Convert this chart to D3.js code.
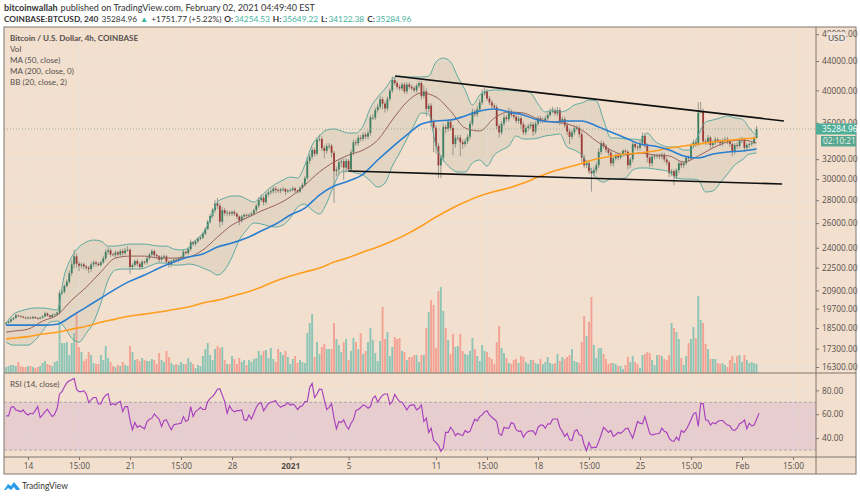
<!DOCTYPE html>
<html>
<head>
<meta charset="utf-8">
<script src="https://cdnjs.cloudflare.com/ajax/libs/d3/7.8.5/d3.min.js"></script>
<style>
html, body { margin: 0; padding: 0; background: #fff; }
text { font-family: Lato, sans-serif; }
</style>
</head>
<body>
<svg id="chart" width="860" height="498"></svg>
<script>

// one row per day, first row starts Dec 12 12:00, bars every 4h
const closes = [
18810,18890,19030,
19110,19270,19230,19190,19140,19090,
19140,19090,19170,19110,19070,19130,
19210,19390,19270,19180,19300,19340,
19440,20710,20810,21200,21500,22100,
22740,23340,22790,22640,22740,22590,
22500,22400,22740,22890,22790,22690,
22890,23190,23690,23800,23490,23440,
23640,23490,23740,23590,23800,23850,
22550,22700,22990,22790,22550,22940,
22890,23190,23490,23740,23440,23340,
23090,23290,23340,22940,22700,22990,
23090,23040,23190,23290,23690,23590,
23900,24450,24300,24500,24700,24800,
25120,25520,26120,26610,27110,27700,
27510,26120,27110,26860,26910,26810,
26960,26810,26560,26220,26560,26710,
26660,26710,26810,27110,27510,28030,
28230,27830,28530,28730,28830,29080,
28950,28860,29000,29050,28800,28900,
28950,29100,28900,28800,29150,29450,
30080,31820,32270,32970,32570,34060,
34160,33170,32870,33370,33420,32670,
30780,30930,31670,31770,31130,31820,
30960,32700,33800,33700,34300,34200,
34630,34430,34830,36630,36630,37520,
37920,38870,38320,37720,38920,39960,
41360,40960,40460,40260,40760,39860,
40760,40460,40260,40010,40610,40960,
39260,39860,37660,38060,36130,35430,
33400,31350,32150,35500,35300,36130,
35400,33600,34300,34300,33800,33600,
33900,34400,35900,37320,37020,37620,
38460,39610,39860,38960,38460,38060,
37860,35620,34900,35900,36630,36430,
37320,36930,36730,36230,36530,35830,
34900,35400,35600,35800,35000,35900,
36530,36230,36330,36530,36930,37320,
37420,37120,37520,36230,36430,35720,
35000,34400,34900,35400,35400,34700,
32170,31370,31570,30770,30570,30870,
31370,32770,33700,33400,33000,32670,
31570,32070,32370,32170,32470,32870,
32770,31370,31970,33600,33300,33200,
33700,34500,33500,32170,31570,32270,
32370,32370,32270,32470,31970,31670,
30570,30770,30270,30870,31570,31370,
31570,32170,32070,33400,33800,33500,
37220,37320,33900,33800,34300,33500,
33700,34100,33900,33700,34000,34100,
33900,33600,32800,33500,33400,34000,
34100,33200,33500,33600,33700,34254.53,
35284.96];

const firstOpen = 18750;

// wick length above the body, USD
const wickUp = [
60,80,60,
60,100,50,60,50,50,
60,50,70,50,60,60,
60,120,60,50,70,60,
60,200,150,120,150,200,
300,500,200,150,150,120,
100,120,150,150,120,100,
120,200,200,250,150,120,
150,120,150,200,200,300,
100,120,100,150,100,120,
100,120,100,150,120,100,
100,120,150,100,100,100,
100,80,80,100,150,100,
150,200,100,120,150,120,
100,100,150,200,200,300,
500,200,300,200,200,150,
150,150,100,100,150,120,
120,120,150,150,200,250,
300,200,200,200,250,200,
200,150,150,200,100,150,
150,200,100,100,150,200,
200,400,300,300,200,300,
500,300,300,300,300,200,
200,300,300,300,300,300,
200,300,300,300,300,300,
300,300,300,300,400,300,
400,400,300,300,300,300,
500,400,300,300,300,300,
300,300,300,300,300,300,
300,800,400,300,300,300,
300,300,300,400,300,300,
300,300,300,300,300,300,
300,300,300,400,300,400,
400,500,500,300,300,300,
300,300,300,300,400,300,
500,300,300,300,300,300,
300,300,300,300,300,300,
300,300,300,300,300,400,
500,300,400,300,300,300,
300,300,300,300,300,300,
300,300,300,300,300,300,
300,400,300,200,200,200,
200,200,200,200,200,200,
200,200,200,300,200,200,
300,400,300,200,200,200,
200,200,200,200,200,200,
200,200,200,200,200,200,
200,200,200,300,300,300,
1280,1200,400,300,300,200,
300,300,200,200,200,300,
300,200,200,200,300,300,
300,200,200,200,200,200,
360];

// wick length below the body, USD
const wickDown = [
80,60,60,
60,60,50,50,50,60,
60,60,50,60,60,50,
50,60,60,60,60,60,
100,100,100,100,100,150,
200,300,300,400,200,200,
200,300,200,200,200,100,
100,100,150,200,200,100,
200,150,150,200,150,100,
500,200,150,200,200,150,
150,150,100,150,150,150,
200,150,150,200,200,150,
100,100,100,100,100,100,
150,150,150,150,100,100,
100,100,100,150,150,200,
300,500,300,200,300,200,
200,200,200,400,200,200,
200,150,150,150,150,200,
200,300,200,200,200,200,
300,200,200,200,300,150,
150,150,200,200,150,150,
200,200,300,300,300,200,
200,300,800,300,300,500,
3000,500,500,500,1200,500,
300,300,300,300,300,300,
300,300,300,300,300,300,
300,300,700,500,300,300,
300,300,300,300,300,300,
300,300,300,300,300,300,
400,300,900,400,600,2700,
800,1270,1270,400,500,300,
300,1200,400,300,1500,500,
300,300,300,300,300,300,
300,300,300,300,300,300,
300,400,600,300,300,300,
300,300,300,300,300,500,
300,300,300,300,500,300,
300,300,300,300,200,200,
200,300,300,500,300,300,
400,800,300,300,300,400,
500,300,300,300,1770,300,
300,300,300,300,300,300,
300,300,200,300,200,200,
300,400,300,300,300,300,
300,300,300,500,400,300,
300,300,300,300,300,300,
400,300,870,300,300,300,
300,200,300,200,200,200,
100,100,300,300,300,400,
300,200,200,300,300,200,
300,300,500,300,300,200,
300,400,300,300,200,100,
0];

// volume, hundreds of BTC
const volumes = [
6,7,8,
8,7,11,7,6,6,
7,7,6,5,6,7,
10,12,9,8,7,11,
12,50,30,30,31,18,
30,40,61,26,21,12,
14,21,18,10,9,9,
18,13,27,15,11,7,
6,8,7,11,8,7,
27,21,13,14,12,15,
13,12,12,14,13,9,
20,13,11,22,16,10,
8,9,8,11,9,9,
15,11,9,5,8,7,
17,24,30,18,13,24,
27,25,26,13,9,9,
17,14,9,15,11,13,
8,13,11,14,15,22,
18,22,23,15,25,14,
11,24,21,18,22,16,
9,14,17,10,13,11,
10,40,50,59,16,31,
19,26,29,24,24,24,
50,34,28,21,31,34,
13,22,35,31,24,40,
19,22,31,45,33,20,
12,32,66,34,41,17,
26,36,34,35,22,21,
13,16,16,18,18,11,
18,18,45,61,73,68,
25,82,86,62,45,33,
19,39,26,27,39,22,
19,18,22,35,24,17,
12,28,22,21,16,14,
9,31,47,25,20,15,
10,9,13,14,10,17,
16,11,9,13,13,10,
9,14,9,11,16,10,
9,10,19,12,16,14,
16,18,24,12,11,10,
31,57,37,51,76,28,
15,25,25,19,14,9,
10,10,9,7,7,4,
8,16,11,17,11,9,
5,18,19,21,20,13,
8,18,18,17,14,13,
18,50,45,41,34,15,
8,17,30,34,46,35,
77,53,50,29,24,14,
14,14,10,9,10,8,
6,13,17,10,17,18,
11,18,13,10,11,10,
9];

// bollinger bands, one reading every 3 bars from the first bar
const bbUpper = [18790,19350,19550,19680,19740,19740,19680,19610,21970,23290,24060,24450,24610,24530,24130,
24130,24210,24290,24290,24290,24210,24130,24130,23900,23830,23980,24610,25170,26260,27840,
28200,28390,28390,28110,27840,28390,29040,29520,29900,30190,30100,31390,33500,34500,35170,
35290,35060,34830,34830,35640,37780,39150,40180,41500,41900,41770,41770,41770,41900,43860,
44420,43860,41770,40050,38150,39400,39920,40050,40050,40050,39920,39920,39660,38270,37290,
37530,37290,37530,38150,38400,38770,38650,36330,34270,34270,34160,34160,34050,34830,33940,
33500,33280,33280,32960,32960,34610,36100,36330,36570,36810,36570,36450,35400,34500];

const bbLower = [17670,17500,17500,17500,17790,18310,18850,18920,18550,17900,17670,18190,18850,20060,21610,
22330,22400,22400,22400,22470,22690,22840,22840,22690,22690,22770,22690,22470,22260,21970,
22330,23290,24610,25420,26010,25930,25760,25670,25840,26430,27390,27660,27130,26780,27750,
29420,30690,30790,30590,30390,29800,29230,29610,31290,32640,34160,35750,37170,37050,33390,
31910,31090,30690,30690,31600,31910,31290,32430,32960,33390,34500,34160,34160,34270,34500,
34610,34720,33280,32960,32430,31290,30100,29710,30000,30000,30100,30890,31090,31090,30990,
30890,30690,30100,30000,30000,29900,28760,28860,29610,30490,31390,31910,32530,32640];

// first reading at the first bar, then daily from Dec 13 00:00 to Feb 2 00:00
const bbBasis = [18250,18310,18430,18920,19290,20250,21120,22190,23210,23360,23360,23210,23210,23290,23830,24850,
25840,26430,27040,27570,28300,29420,30690,31700,32430,32960,34050,36330,38520,39660,39150,
37410,35400,35060,36570,37290,37170,36450,36100,35870,35170,33940,32960,32430,32640,32430,
32330,31700,32330,33180,33830,34050,33720];

const ma50 = [18670,18670,18670,18670,18730,19230,19800,20380,20990,21540,21970,22470,22910,23290,23520,24060,
24370,24770,25340,25920,26690,27300,28480,29330,29800,30490,31910,33280,34610,35870,36220,
36330,36810,37410,37650,37290,36930,36330,36100,36220,36220,35640,34950,34270,33610,33390,
32960,32330,32120,32530,32750,32850,33070];

const ma200 = [17860,17900,17990,18140,18250,18430,18610,18850,19040,19230,19350,19480,19640,19800,20060,20250,
20510,20780,21120,21540,21900,22190,22470,22910,23250,23670,24060,24530,25090,25760,26520,
27220,27840,28390,28810,29140,29610,30190,30740,31140,31550,32020,32280,32540,32640,32850,
33180,33390,33610,33830,34000,34160,34270];

const rsi = [
58.6,58.6,65.8,66.4,63.6,63,62,63.6,60.8,59.4,60.8,60.3,63,66.4,57.2,59.4,62.2,64.2,60.8,58,60,65,77,78.9,83,86.4,88,89,90,80.8,
78.9,78.9,79.7,77,69.7,72,74,74,68.6,68.6,73.3,76,77,67.8,69,67.8,69.7,70.8,62.2,66.4,66.4,55.3,47,53,49,50.3,49,47.8,53.9,55.8,
56.7,60.3,58,55.8,49.7,54.7,55.3,51,47,51,51.7,52,52.5,58,53.9,55.3,66.4,58,62.2,63.6,65.8,64,64,70.6,73.3,74.7,77.5,81,81.4,76,
70.6,60.8,67,63.6,62,63,63,63.6,55.3,54.7,59.4,56,60.8,65.8,69,69.7,63,65.8,69,70,70.6,71.4,67.8,65.8,67,67.8,69.7,67.5,68.6,67,
64,66.4,67,70.6,70.6,82.5,85.8,74,77,81,80.8,72,64,65.8,69,56.7,47.8,53.9,53,55.3,50.3,47.5,52.5,55.3,63,64,65.6,67.8,67,65,
66.4,73.3,75.3,70,73.3,76,77,77,68.3,70.6,76.7,73.3,70.6,70,67,63.6,67,67.8,67.8,63.6,65,67.8,53.9,56.7,44.7,48.3,38,36.4,33.9,28.9,
31.7,45,44.7,49,46.4,42,44,42.8,42.2,46.4,44.7,45.6,51,55.8,54.4,58,59.4,62,63,59.4,57.5,55.8,53.9,43.6,42.2,49,48.3,48.3,53,52,
47,45.6,46,40.8,44,45.6,46,46,42.8,49,50.8,50.8,48.3,52,51.7,55.8,56,56,48.9,45.6,41.4,44,38.6,38,45.6,47,42.8,42.2,34.4,29.4,
36.4,31.7,32.2,32.2,37,42.8,49,47,44.7,46.4,41.4,42.8,44.7,44,45.6,47.8,48.3,44,40,47,53.9,52.5,52,58,51,44,42.5,43.3,43.6,44,
48.3,45.6,44.7,40,37.8,37.2,40.8,38,46.4,44.7,47,51,55.3,60.3,61.4,49.7,69,69,55.3,54.7,51,53,52,53.9,54.7,54.7,52.5,51,50.3,47,
46.4,48.3,52,53,55.3,47.8,52.5,50.3,51,55.8,60.8];

const priceTicks = [48000,44000,40000,36000,32000,30000,28000,26000,24000,22500,20900,19700,18500,17300,16300];
const rsiTicks = [80,60,40];
const timeTicks = ['2020-12-14','2020-12-17T12:00','2020-12-21','2020-12-24T12:00','2020-12-28','2021-01-01','2021-01-05','2021-01-11','2021-01-14T12:00','2021-01-18','2021-01-21T12:00','2021-01-25','2021-01-28T12:00','2021-02-01','2021-02-04T12:00'];
const timeLabels = ['14','15:00','21','15:00','28','2021','5','11','15:00','18','15:00','25','15:00','Feb','15:00'];

// two hand drawn trend lines: [date, price] at each end
const upperTrend = [['2021-01-08T04:30',41900],['2021-02-03T21:00',36220]];
const lowerTrend = [['2021-01-05T00:00',30790],['2021-02-03T18:00',29520]];

const lastPrice = 35284.96;

// colours
const bg = '#f2dfce', gridCol = '#ece3da', frameCol = '#80766f', textCol = '#55504c';
const upCol = '#3b7f62', downCol = '#9c3b37', wickCol = '#8f8f85';
const volUp = '#8cc5b5', volDown = '#f2a193';
const bbCol = '#5caaa0', basisCol = '#96615a', blue = '#2a7ed0', orange = '#ff9d1e', purple = '#a640bd', teal = '#4fae98';

const plotLeft = 4, plotRight = 816, outerRight = 856, plotTop = 27, volBottom = 373, rsiBottom = 457, plotBottom = 474;

function utc(s) { return new Date(s + (s.length > 10 ? ':00Z' : 'T00:00:00Z')); }

const barStart = utc('2020-12-12T12:00');
function barDate(i) { return new Date(barStart.getTime() + i * 4 * 3600 * 1000); }

const x = d3.scaleUtc().domain([utc('2020-12-14'), utc('2021-02-01')]).range([28, 742]);
const y = d3.scaleLog().domain([44000, 16300]).range([61, 367]);
const yVol = d3.scaleLinear().domain([0, 100]).range([volBottom, volBottom - 100]);
const yRsi = d3.scaleLinear().domain([30, 70]).range([450, 402.3]);

const svg = d3.select('#chart');

svg.append('rect').attr('x', plotLeft).attr('y', plotTop).attr('width', outerRight - plotLeft).attr('height', plotBottom - plotTop).attr('fill', bg);

const defs = svg.append('defs');
defs.append('clipPath').attr('id', 'mainClip').append('rect')
    .attr('x', plotLeft).attr('y', plotTop).attr('width', plotRight - plotLeft).attr('height', volBottom - plotTop);
defs.append('clipPath').attr('id', 'rsiClip').append('rect')
    .attr('x', plotLeft).attr('y', volBottom).attr('width', plotRight - plotLeft).attr('height', rsiBottom - volBottom);

// grid
const grid = svg.append('g').attr('stroke', gridCol).attr('stroke-width', 1);
grid.selectAll('.h').data(priceTicks.slice(1)).join('line').attr('class', 'h')
    .attr('x1', plotLeft).attr('x2', plotRight).attr('y1', d => y(d)).attr('y2', d => y(d));
grid.selectAll('.r').data(rsiTicks).join('line').attr('class', 'r')
    .attr('x1', plotLeft).attr('x2', plotRight).attr('y1', d => yRsi(d)).attr('y2', d => yRsi(d));
grid.selectAll('.v').data(timeTicks).join('line').attr('class', 'v')
    .attr('x1', d => x(utc(d))).attr('x2', d => x(utc(d))).attr('y1', plotTop).attr('y2', rsiBottom);

const main = svg.append('g').attr('clip-path', 'url(#mainClip)');

// candles as objects
const candles = closes.map(function (c, i) {
    const o = i ? closes[i - 1] : firstOpen;
    return { i: i, o: o, c: c, h: Math.max(o, c) + wickUp[i], l: Math.min(o, c) - wickDown[i], vol: volumes[i] };
});

// volume
main.selectAll('.vol').data(candles).join('rect').attr('class', 'vol')
    .attr('x', d => x(barDate(d.i)) - 0.95).attr('width', 1.9)
    .attr('y', d => yVol(d.vol)).attr('height', d => volBottom - yVol(d.vol))
    .attr('fill', d => d.c >= d.o ? volUp : volDown);

// bollinger fill and lines, 3 bars per reading
const bbDate = i => barDate(i * 3);
const bbArea = d3.area().x((d, i) => x(bbDate(i))).y0(d => y(d)).y1((d, i) => y(bbLower[i])).curve(d3.curveMonotoneX);
main.append('path').attr('d', bbArea(bbUpper)).attr('fill', '#a9ac98').attr('fill-opacity', 0.18);

// candles
main.selectAll('.wick').data(candles).join('line').attr('class', 'wick')
    .attr('x1', d => x(barDate(d.i))).attr('x2', d => x(barDate(d.i)))
    .attr('y1', d => y(d.h)).attr('y2', d => y(d.l))
    .attr('stroke', wickCol).attr('stroke-width', 0.9);
main.selectAll('.body').data(candles).join('rect').attr('class', 'body')
    .attr('x', d => x(barDate(d.i)) - 0.9).attr('width', 1.8)
    .attr('y', d => y(Math.max(d.o, d.c))).attr('height', d => Math.max(0.8, Math.abs(y(d.o) - y(d.c))))
    .attr('fill', d => d.c >= d.o ? upCol : downCol);

const bbLine = d3.line().x((d, i) => x(bbDate(i))).y(d => y(d)).curve(d3.curveMonotoneX);
main.append('path').attr('d', bbLine(bbUpper)).attr('fill', 'none').attr('stroke', bbCol).attr('stroke-width', 1);
main.append('path').attr('d', bbLine(bbLower)).attr('fill', 'none').attr('stroke', bbCol).attr('stroke-width', 1);

// daily lines: reading 0 sits on the first bar, the rest on each day's first bar
const dayLine = d3.line().x((d, i) => x(barDate(i ? 3 + (i - 1) * 6 : 0))).y(d => y(d)).curve(d3.curveMonotoneX);
main.append('path').attr('d', dayLine(bbBasis)).attr('fill', 'none').attr('stroke', basisCol).attr('stroke-width', 1);
main.append('path').attr('d', dayLine(ma200)).attr('fill', 'none').attr('stroke', orange).attr('stroke-width', 1.6);
main.append('path').attr('d', dayLine(ma50)).attr('fill', 'none').attr('stroke', blue).attr('stroke-width', 1.6);

// last price line
main.append('line').attr('x1', plotLeft).attr('x2', plotRight).attr('y1', y(lastPrice)).attr('y2', y(lastPrice))
    .attr('stroke', '#8aa596').attr('stroke-width', 0.8).attr('stroke-dasharray', '1,2');

// trend lines
const trend = d3.line().x(d => x(utc(d[0]))).y(d => y(d[1]));
main.append('path').attr('d', trend(upperTrend)).attr('fill', 'none').attr('stroke', '#111').attr('stroke-width', 1.6);
main.append('path').attr('d', trend(lowerTrend)).attr('fill', 'none').attr('stroke', '#111').attr('stroke-width', 1.6);

// rsi pane
const rsiPane = svg.append('g').attr('clip-path', 'url(#rsiClip)');
rsiPane.append('rect').attr('x', plotLeft).attr('width', plotRight - plotLeft)
    .attr('y', yRsi(70)).attr('height', yRsi(30) - yRsi(70)).attr('fill', '#c58fd0').attr('fill-opacity', 0.22);
[70, 30].forEach(function (v) {
    rsiPane.append('line').attr('x1', plotLeft).attr('x2', plotRight).attr('y1', yRsi(v)).attr('y2', yRsi(v))
        .attr('stroke', '#aea8ac').attr('stroke-width', 1).attr('stroke-dasharray', '3,2');
});
const rsiLine = d3.line().x((d, i) => x(barDate(i))).y(d => yRsi(d));
rsiPane.append('path').attr('d', rsiLine(rsi)).attr('fill', 'none').attr('stroke', purple).attr('stroke-width', 1.15);

// axes
const priceAxis = d3.axisRight(y).tickValues(priceTicks).tickFormat(d3.format('.2f')).tickSize(3).tickPadding(3);
const gPrice = svg.append('g').attr('transform', 'translate(' + plotRight + ',0)').call(priceAxis);
const rsiAxis = d3.axisRight(yRsi).tickValues(rsiTicks).tickFormat(d3.format('.2f')).tickSize(3).tickPadding(3);
const gRsi = svg.append('g').attr('transform', 'translate(' + plotRight + ',0)').call(rsiAxis);
const timeAxis = d3.axisBottom(x).tickValues(timeTicks.map(utc)).tickFormat((d, i) => timeLabels[i]).tickSize(3).tickPadding(3);
const gTime = svg.append('g').attr('transform', 'translate(0,' + rsiBottom + ')').call(timeAxis);
[gPrice, gRsi, gTime].forEach(function (g) {
    g.select('.domain').remove();
    g.selectAll('line').attr('stroke', frameCol);
    g.selectAll('text').attr('fill', textCol).style('font-size', '8.3px').style('font-family', '"Open Sans", sans-serif');
});
gTime.selectAll('text').filter((d, i) => timeLabels[i] === '2021').style('font-weight', 'bold');

// frame and separators
svg.append('rect').attr('x', plotLeft).attr('y', plotTop).attr('width', outerRight - plotLeft).attr('height', plotBottom - plotTop)
    .attr('fill', 'none').attr('stroke', frameCol).attr('stroke-width', 1);
[volBottom, rsiBottom].forEach(function (v) {
    svg.append('line').attr('x1', plotLeft).attr('x2', outerRight).attr('y1', v).attr('y2', v).attr('stroke', frameCol);
});
svg.append('line').attr('x1', plotRight).attr('x2', plotRight).attr('y1', plotTop).attr('y2', plotBottom).attr('stroke', frameCol);

// USD chip
svg.append('rect').attr('x', 827).attr('y', 32).attr('width', 19).attr('height', 11).attr('rx', 2).attr('fill', '#efe5dc');
svg.append('text').attr('x', 836.5).attr('y', 40.5).attr('text-anchor', 'middle').attr('fill', textCol).style('font-size', '8.4px').text('USD');

// last price and countdown boxes
svg.append('rect').attr('x', plotRight).attr('y', y(lastPrice) - 5.5).attr('width', 40).attr('height', 11).attr('fill', teal);
svg.append('text').attr('x', 822).attr('y', y(lastPrice) + 3).attr('fill', '#fff').style('font-size', '8.3px').style('font-family', '"Open Sans", sans-serif').text('35284.96');
svg.append('rect').attr('x', 821).attr('y', 136).attr('width', 35).attr('height', 10.5).attr('fill', '#5aa78f');
svg.append('text').attr('x', 823).attr('y', 144).attr('fill', '#e8f3ee').style('font-size', '8.3px').style('font-family', '"Open Sans", sans-serif').text('02:10:21');

// legend
const legend = [['Bitcoin / U.S. Dollar, 4h, COINBASE', 41, 'bold'], ['Vol', 52, null], ['MA (50, close)', 63, null], ['MA (200, close, 0)', 74, null], ['BB (20, close, 2)', 85, null], ['RSI (14, close)', 387, null]];
svg.selectAll('.lg').data(legend).join('text').attr('class', 'lg')
    .attr('x', 10).attr('y', d => d[1]).attr('fill', textCol).style('font-size', '8.1px')
    .style('font-weight', d => d[2]).text(d => d[0]);

// header
const h1 = svg.append('text').attr('x', 4).attr('y', 11).attr('fill', '#333').style('font-size', '9.05px');
h1.append('tspan').style('font-weight', 'bold').text('bitcoinwallah');
h1.append('tspan').attr('dx', 3).text('published on TradingView.com, February 02, 2021 04:49:40 EST');

const green = '#3fb39d';
const h2 = svg.append('text').attr('x', 4).attr('y', 22).attr('fill', '#333').style('font-size', '8.3px');
h2.append('tspan').style('font-weight', 'bold').text('COINBASE:BTCUSD, 240');
h2.append('tspan').attr('dx', 3).text('35284.96');
h2.append('tspan').attr('dx', 3).attr('fill', green).text('\u25B2');
h2.append('tspan').attr('dx', 3).text('+1751.77 (+5.22%)');
[['O:', '34254.53'], ['H:', '35649.22'], ['L:', '34122.38'], ['C:', '35284.96']].forEach(function (p) {
    h2.append('tspan').attr('dx', 3).style('font-weight', 'bold').text(p[0]);
    h2.append('tspan').attr('dx', 1).attr('fill', green).text(p[1]);
});

// TradingView mark
const logoData = [[4, 490], [8, 484], [11, 486], [14, 482], [19, 488], [20, 490], [16, 490], [14, 487], [11, 490], [8, 488], [6, 490]];
svg.append('path').attr('d', d3.line()(logoData) + 'Z').attr('fill', '#2d9be8');
svg.append('text').attr('x', 22).attr('y', 489).attr('fill', '#333').style('font-size', '8.5px').text('TradingView');

</script>
</body>
</html>
